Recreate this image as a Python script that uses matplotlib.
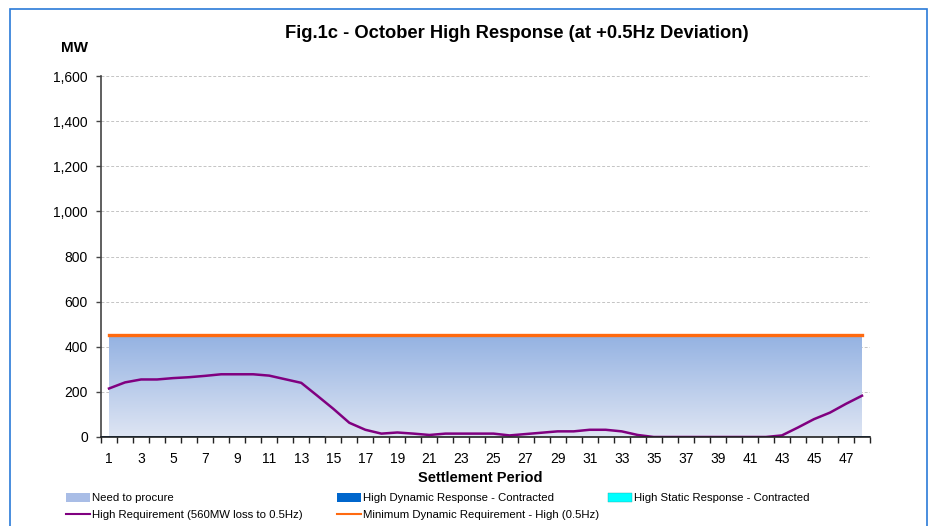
import numpy as np
import matplotlib
matplotlib.use('Agg')
import matplotlib.pyplot as plt
from matplotlib.patches import Rectangle, Patch
from matplotlib.lines import Line2D
from matplotlib.ticker import FuncFormatter, FixedLocator

plt.rcParams['font.family'] = ['Liberation Sans', 'DejaVu Sans']

# ---- data ----
periods = list(range(1, 49))
need_to_procure = [450] * 48
high_requirement = [215, 242, 255, 255, 261, 265, 271, 278, 278, 278,
                    272, 256, 240, 183, 125, 63, 32, 15, 20, 15,
                    9, 15, 15, 15, 15, 7, 13, 19, 25, 25,
                    32, 32, 25, 9, 0, 0, 0, 0, 0, 0,
                    0, 0, 7, 42, 79, 108, 147, 183]
min_dynamic_requirement = [450] * 48
dynamic_contracted = [4] * 14 + [0] * 32 + [4] * 2
static_contracted = [0] * 48
y_ticks = [0, 200, 400, 600, 800, 1000, 1200, 1400, 1600]
x_tick_labels = [str(p) for p in range(1, 48, 2)]

title = "Fig.1c - October High Response (at +0.5Hz Deviation)"
legend_labels = ["Need to procure", "High Dynamic Response - Contracted",
                 "High Static Response - Contracted",
                 "High Requirement (560MW loss to 0.5Hz)",
                 "Minimum Dynamic Requirement - High (0.5Hz)"]

W, H = 932, 526
fig = plt.figure(figsize=(W / 100, H / 100), dpi=100)
ax = fig.add_axes([101 / W, 1 - 437 / H, (870 - 101) / W, (437 - 76) / H])

# outer chart border
fig.patches.append(Rectangle((9.5 / W, -0.05), (927 - 9.5) / W, 1.05 - 9.5 / H,
                             transform=fig.transFigure, fill=False,
                             edgecolor='#2a7ad8', linewidth=1.2))

# need to procure (gradient area)
poly = ax.fill_between(periods, 0, need_to_procure, facecolor='none',
                       edgecolor='none', zorder=2)
bottom_c = np.array([222, 229, 243]) / 255
top_c = np.array([148, 178, 226]) / 255
t = np.linspace(0, 1, 256)[:, None, None]
grad = bottom_c[None, None, :] * (1 - t) + top_c[None, None, :] * t
im = ax.imshow(grad, origin='lower', aspect='auto',
               extent=(periods[0], periods[-1], 0, max(need_to_procure)),
               zorder=2, interpolation='bilinear')
im.set_clip_path(poly.get_paths()[0], transform=ax.transData)

# contracted bars
ax.bar(periods, dynamic_contracted, width=1.0, color='#0a3a78', zorder=3)
ax.bar(periods, static_contracted, bottom=dynamic_contracted, width=1.0,
       color='#00ffff', zorder=3)

# lines
ax.plot(periods, min_dynamic_requirement, color='#ff6a10', lw=2.4, zorder=4)
ax.plot(periods, high_requirement, color='#800080', lw=1.8, zorder=5)

ax.set_xlim(0.5, 48.5)
ax.set_ylim(0, 1600)
ax.set_axisbelow(True)
ax.yaxis.set_major_locator(FixedLocator(y_ticks))
ax.yaxis.set_major_formatter(FuncFormatter(lambda v, p: f"{int(v):,}"))
ax.grid(axis='y', color='#c4c4c4', linestyle=(0, (3, 2)), linewidth=0.7)

ax.xaxis.set_major_locator(FixedLocator(np.arange(0.5, 49, 1)))
ax.xaxis.set_minor_locator(FixedLocator(list(range(1, 48, 2))))
ax.xaxis.set_major_formatter(FuncFormatter(lambda v, p: ""))
ax.set_xticklabels(x_tick_labels, minor=True)
ax.tick_params(axis='x', which='major', direction='out', length=4,
               color='#222222', width=1)
ax.tick_params(axis='x', which='minor', length=0, pad=11, labelsize=10)
ax.tick_params(axis='y', direction='out', length=3.5, width=1,
               color='#444444', pad=6, labelsize=10)

for s in ['top', 'right']:
    ax.spines[s].set_visible(False)
ax.spines['left'].set_color('#444444')
ax.spines['left'].set_linewidth(1.2)
ax.spines['bottom'].set_color('#222222')
ax.spines['bottom'].set_linewidth(1.2)
ax.spines['bottom'].set_zorder(6)

# texts
fig.text(517 / W, 1 - 33 / H, title, ha='center', va='center',
         fontsize=13.2, fontweight='bold')
fig.text(75 / W, 1 - 48 / H, "MW", ha='center', va='center',
         fontsize=11, fontweight='bold')
fig.text(480 / W, 1 - 478 / H, "Settlement Period", ha='center', va='center',
         fontsize=10.5, fontweight='bold')

# legend (manually placed entries)
handles = [Patch(facecolor='#a9bde6', edgecolor='none'),
           Patch(facecolor='#0066cc', edgecolor='none'),
           Patch(facecolor='#00ffff', edgecolor='#2aa', linewidth=0.3),
           Line2D([], [], color='#800080', lw=1.5),
           Line2D([], [], color='#ff6a10', lw=1.5)]
positions = [(66, 498), (337, 498), (608, 498), (66, 515), (337, 515)]
for h, lab, (px, py) in zip(handles, legend_labels, positions):
    fig.legend([h], [lab], loc='center left',
               bbox_to_anchor=(px / W, 1 - py / H),
               frameon=False, fontsize=8.2, handlelength=2.1, handleheight=0.8,
               handletextpad=0.15, borderpad=0, borderaxespad=0)

fig.savefig('out.png', dpi=100)
